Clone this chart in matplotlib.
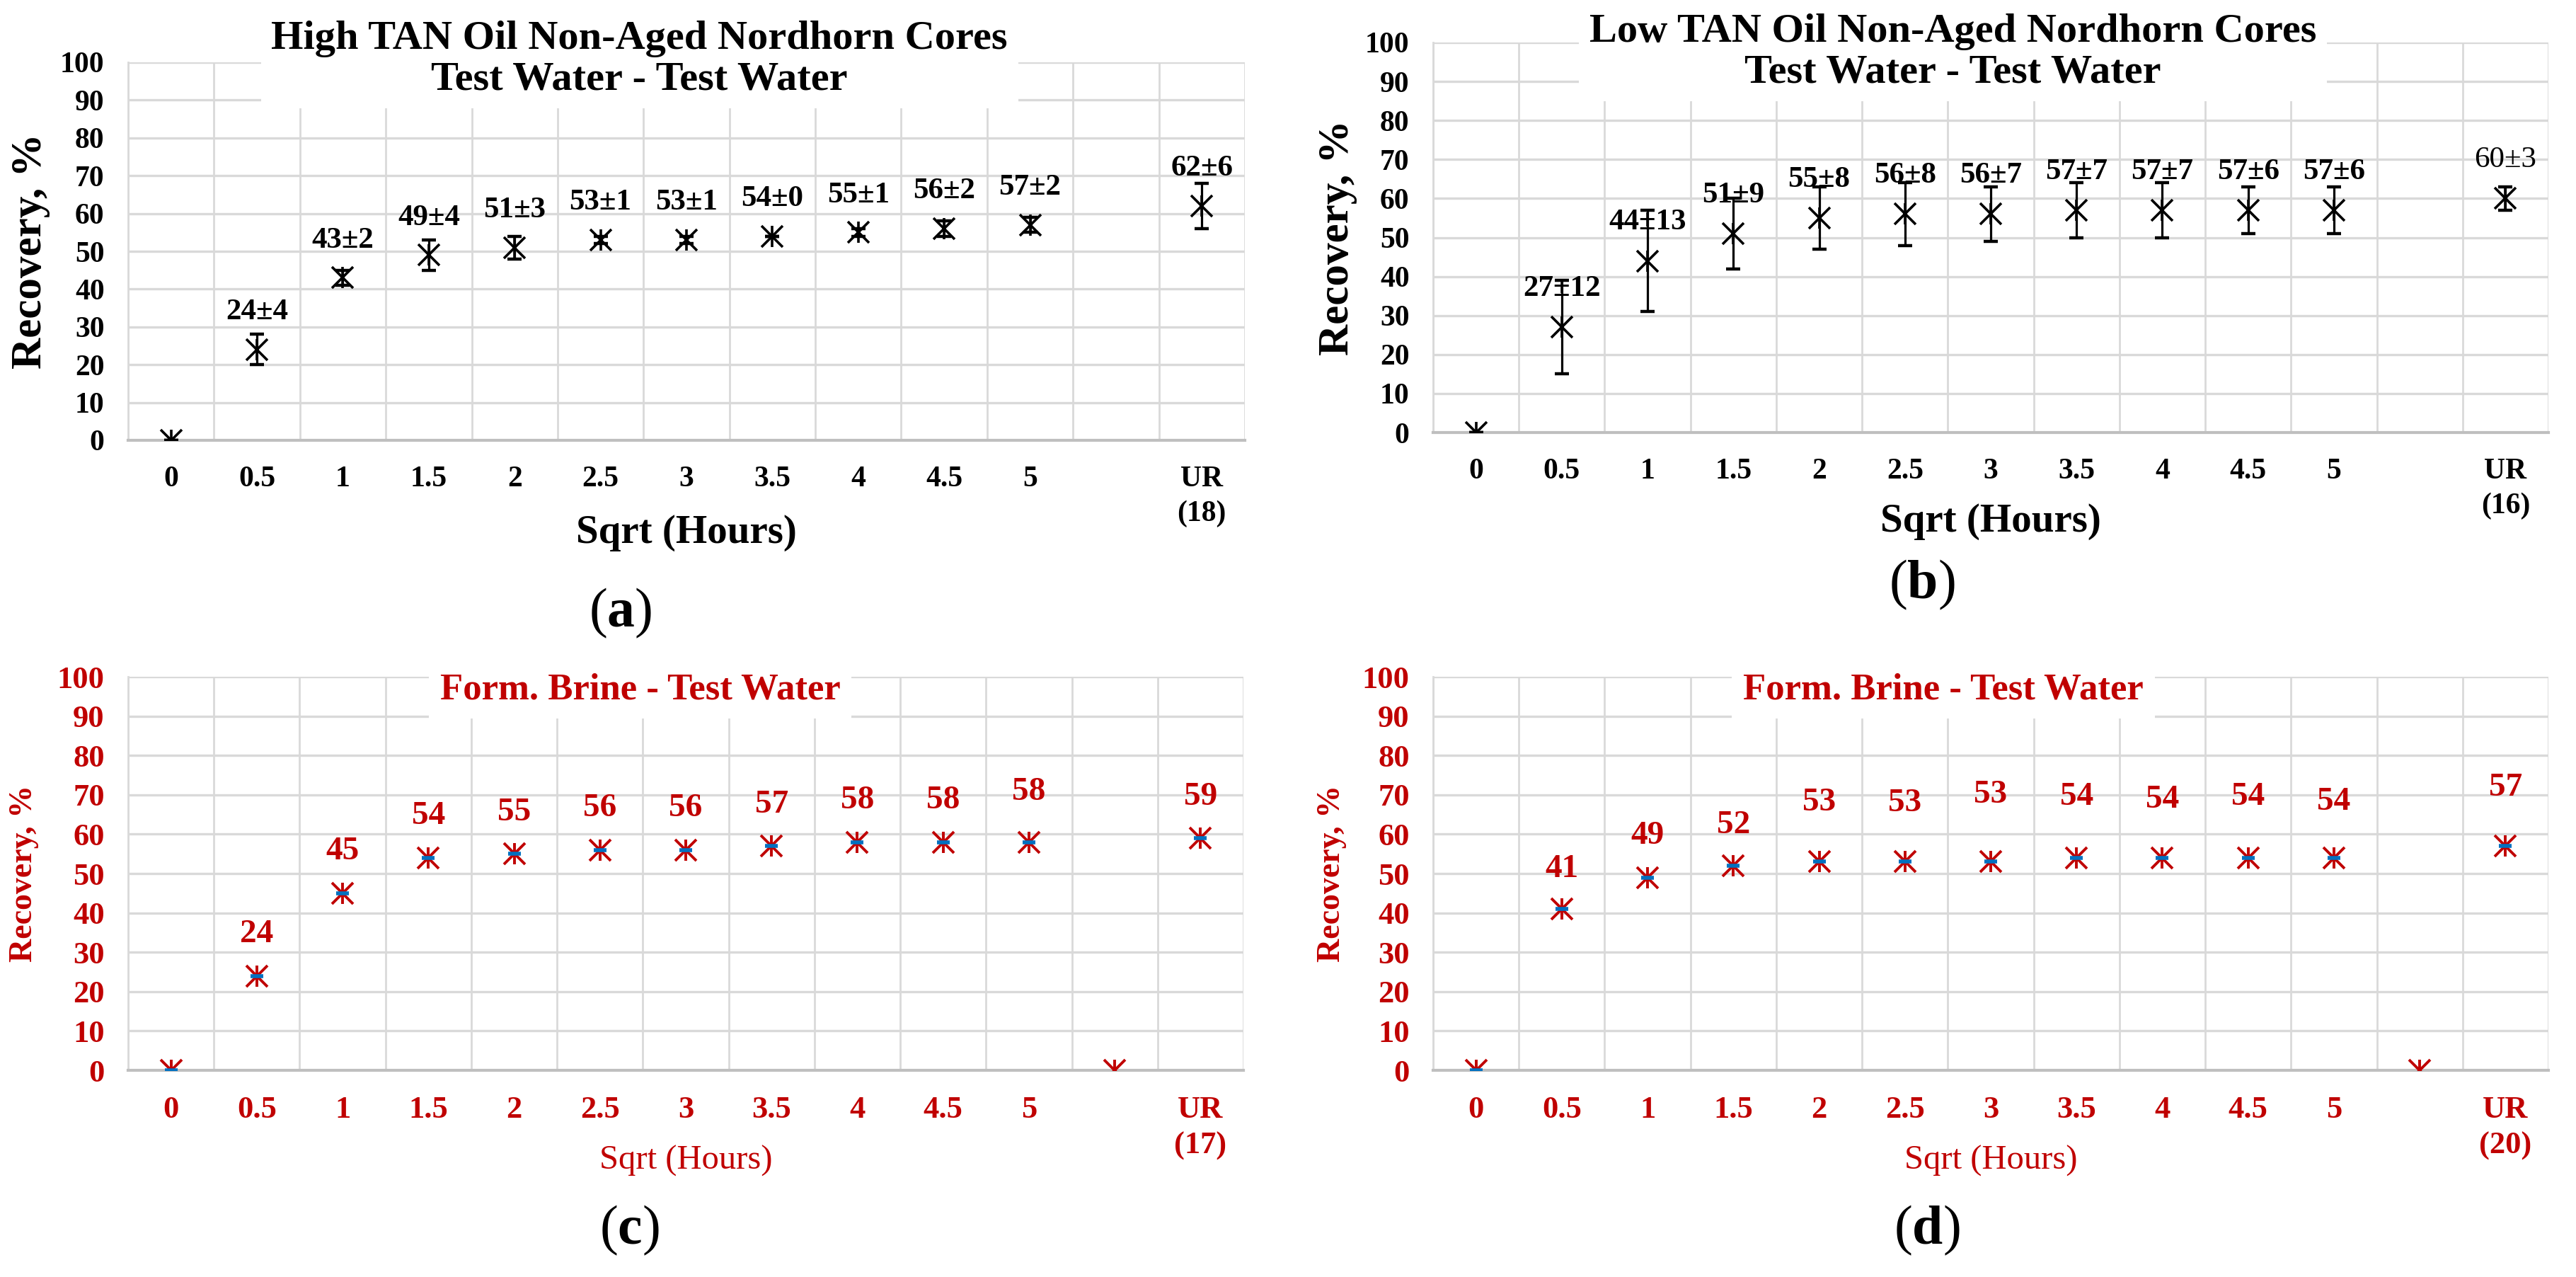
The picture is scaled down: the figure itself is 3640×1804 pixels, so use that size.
import numpy as np
import matplotlib
matplotlib.use('Agg')
import matplotlib.pyplot as plt

plt.rcParams['font.family'] = ['Liberation Serif', 'DejaVu Serif']
plt.rcParams['mathtext.fontset'] = 'custom'
plt.rcParams['mathtext.rm'] = 'Liberation Serif'
plt.rcParams['mathtext.bf'] = 'Liberation Serif:bold'

# sqrt(hours) categories, a blank slot, then ultimate recovery
sqrt_hours = ['0', '0.5', '1', '1.5', '2', '2.5', '3', '3.5', '4', '4.5', '5', '']

# (a) High TAN oil, test water - test water
hi_tan_mean = [0, 24, 43, 49, 51, 53, 53, 54, 55, 56, 57, np.nan, 62]
hi_tan_err = [0, 4, 2, 4, 3, 1, 1, 0, 1, 2, 2, np.nan, 6]
hi_tan_cores = 18

# (b) Low TAN oil, test water - test water
lo_tan_mean = [0, 27, 44, 51, 55, 56, 56, 57, 57, 57, 57, np.nan, 60]
lo_tan_err = [0, 12, 13, 9, 8, 8, 7, 7, 7, 6, 6, np.nan, 3]
lo_tan_cores = 16

# (c) and (d) formation brine - test water
hi_brine = [0, 24, 45, 54, 55, 56, 56, 57, 58, 58, 58, 0, 59]
hi_brine_cores = 17
lo_brine = [0, 41, 49, 52, 53, 53, 53, 54, 54, 54, 54, 0, 57]
lo_brine_cores = 20

RED = '#C00000'
GRID = '#D9D9D9'
SERIF = ['Liberation Serif', 'DejaVu Serif']

W, H = 3640, 1804
fig = plt.figure(figsize=(W / 100, H / 100), dpi=100)


def px_axes(left, top, right, bottom):
    return fig.add_axes([left / W, 1 - bottom / H, (right - left) / W, (bottom - top) / H])


def style_axes(ax, color, labels, tick_size, tick_pad):
    x = np.arange(len(labels))
    ax.set_xlim(-0.5, len(labels) - 0.5)
    ax.set_ylim(0, 100)
    ax.set_yticks(np.arange(0, 101, 10))
    ax.set_xticks(x)
    ax.set_xticklabels(labels)
    ax.set_xticks(np.arange(-0.5, len(labels), 1), minor=True)
    ax.grid(axis='y', which='major', color=GRID, lw=2.4, zorder=0)
    ax.grid(axis='x', which='minor', color=GRID, lw=2.0, zorder=0)
    ax.set_axisbelow(True)
    ax.tick_params(which='both', length=0)
    ax.tick_params(axis='x', labelsize=tick_size, labelcolor=color, pad=tick_pad)
    ax.tick_params(axis='y', labelsize=tick_size, labelcolor=color, pad=24)
    for lbl in ax.get_xticklabels() + ax.get_yticklabels():
        lbl.set_fontweight('bold')
        lbl.set_linespacing(1.35)
    for s in ['top', 'right']:
        ax.spines[s].set_visible(False)
    ax.spines['left'].set_color(GRID)
    ax.spines['left'].set_linewidth(2.0)
    ax.spines['bottom'].set_color('#BFBFBF')
    ax.spines['bottom'].set_linewidth(3)
    return x


def star(ax, x, y, color, ms=22, mew=2.6):
    ax.plot(x, y, ls='none', marker='x', ms=ms, mew=mew, color=color, zorder=4)
    ax.plot(x, y, ls='none', marker='|', ms=ms, mew=mew, color=color, zorder=4)


def error_panel(ax, mean, err, cores, title, title_xy, ylab_x, xlab_y, lab_off, lab_weights):
    labels = sqrt_hours + ['UR\n(%d)' % cores]
    x = style_axes(ax, 'black', labels, 30, 26)
    for i in range(1, len(x)):
        if np.isnan(mean[i]):
            continue
        ax.annotate('%d\u00b1%d' % (mean[i], err[i]), (x[i], mean[i]), xytext=(0, lab_off),
                    textcoords='offset points', ha='center', va='center',
                    fontsize=31, fontweight=lab_weights[i], zorder=2)
    ax.errorbar(x, mean, yerr=err, fmt='none', ecolor='black', elinewidth=2.3,
                capsize=7, capthick=3.2, zorder=3)
    star(ax, x, mean, 'black', ms=21.5)
    ax.text(title_xy[0], title_xy[1], title, transform=ax.transAxes, ha='center', va='center',
            fontsize=42, fontweight='bold', linespacing=1.12, zorder=6,
            bbox=dict(facecolor='white', edgecolor='none', boxstyle='square,pad=0.25'))
    ax.set_ylabel('Recovery, %', fontsize=44, fontweight='bold', va='center')
    ax.yaxis.set_label_coords(ylab_x, 0.5)
    ax.set_xlabel('Sqrt (Hours)', fontsize=41, fontweight='bold', va='center')
    ax.xaxis.set_label_coords(0.5, xlab_y)


def brine_panel(ax, vals, cores, title_xy, ylab_x, lab_offs):
    labels = sqrt_hours + ['UR\n(%d)' % cores]
    x = style_axes(ax, RED, labels, 32, 26)
    star(ax, x, vals, RED, ms=22, mew=2.8)
    keep = [i for i in range(len(x)) if labels[i] != '']
    ax.plot(x[keep], np.array(vals)[keep], ls='none', marker='_', ms=13, mew=4,
            color='#0070C0', zorder=5)
    for i in range(1, len(x)):
        if labels[i] == '':
            continue
        ax.annotate('%d' % vals[i], (x[i], vals[i]), xytext=(0, lab_offs[i]),
                    textcoords='offset points', ha='center', va='center',
                    fontsize=34, fontweight='bold', color=RED, zorder=5)
    ax.text(title_xy[0], title_xy[1], 'Form. Brine - Test Water', transform=ax.transAxes,
            ha='center', va='center', fontsize=38, fontweight='bold', color=RED, zorder=6,
            bbox=dict(facecolor='white', edgecolor='none', boxstyle='square,pad=0.3'))
    ax.set_ylabel('Recovery, %', fontsize=33, fontweight='bold', color=RED, va='center')
    ax.yaxis.set_label_coords(ylab_x, 0.5)
    ax.set_xlabel('Sqrt (Hours)', fontsize=35, family=SERIF, fontweight='normal',
                  color=RED, va='center')
    ax.xaxis.set_label_coords(0.5, -0.23)


ax_a = px_axes(181, 88, 1759, 622)
ax_b = px_axes(2025, 60, 3601, 611)
ax_c = px_axes(181, 956, 1757, 1512)
ax_d = px_axes(2025, 956, 3601, 1512)

bold = ['bold'] * 13
bold_b = ['bold'] * 12 + ['normal']
error_panel(ax_a, hi_tan_mean, hi_tan_err, hi_tan_cores,
            'High TAN Oil Non-Aged Nordhorn Cores\nTest Water - Test Water',
            (0.458, 1.008), -0.0875, -0.245, 38, bold)
error_panel(ax_b, lo_tan_mean, lo_tan_err, lo_tan_cores,
            'Low TAN Oil Non-Aged Nordhorn Cores\nTest Water - Test Water',
            (0.466, 0.975), -0.0857, -0.229, 39, bold_b)

off_c = [0, 42, 42, 42, 42, 42, 42, 42, 42, 42, 51, 0, 42]
off_d = [0, 40, 42, 41, 60, 59, 68, 62, 59, 62, 57, 0, 59]
brine_panel(ax_c, hi_brine, hi_brine_cores, (0.459, 0.966), -0.093, off_c)
brine_panel(ax_d, lo_brine, lo_brine_cores, (0.4575, 0.966), -0.0907, off_d)

for letter, (px, py) in zip('abcd', [(877, 866), (2716, 826), (889, 1738), (2723, 1738)]):
    fig.text(px / W, 1 - py / H, r'($\mathbf{%s}$)' % letter, ha='center', va='center', fontsize=56)

fig.savefig('out.png', dpi=100)
